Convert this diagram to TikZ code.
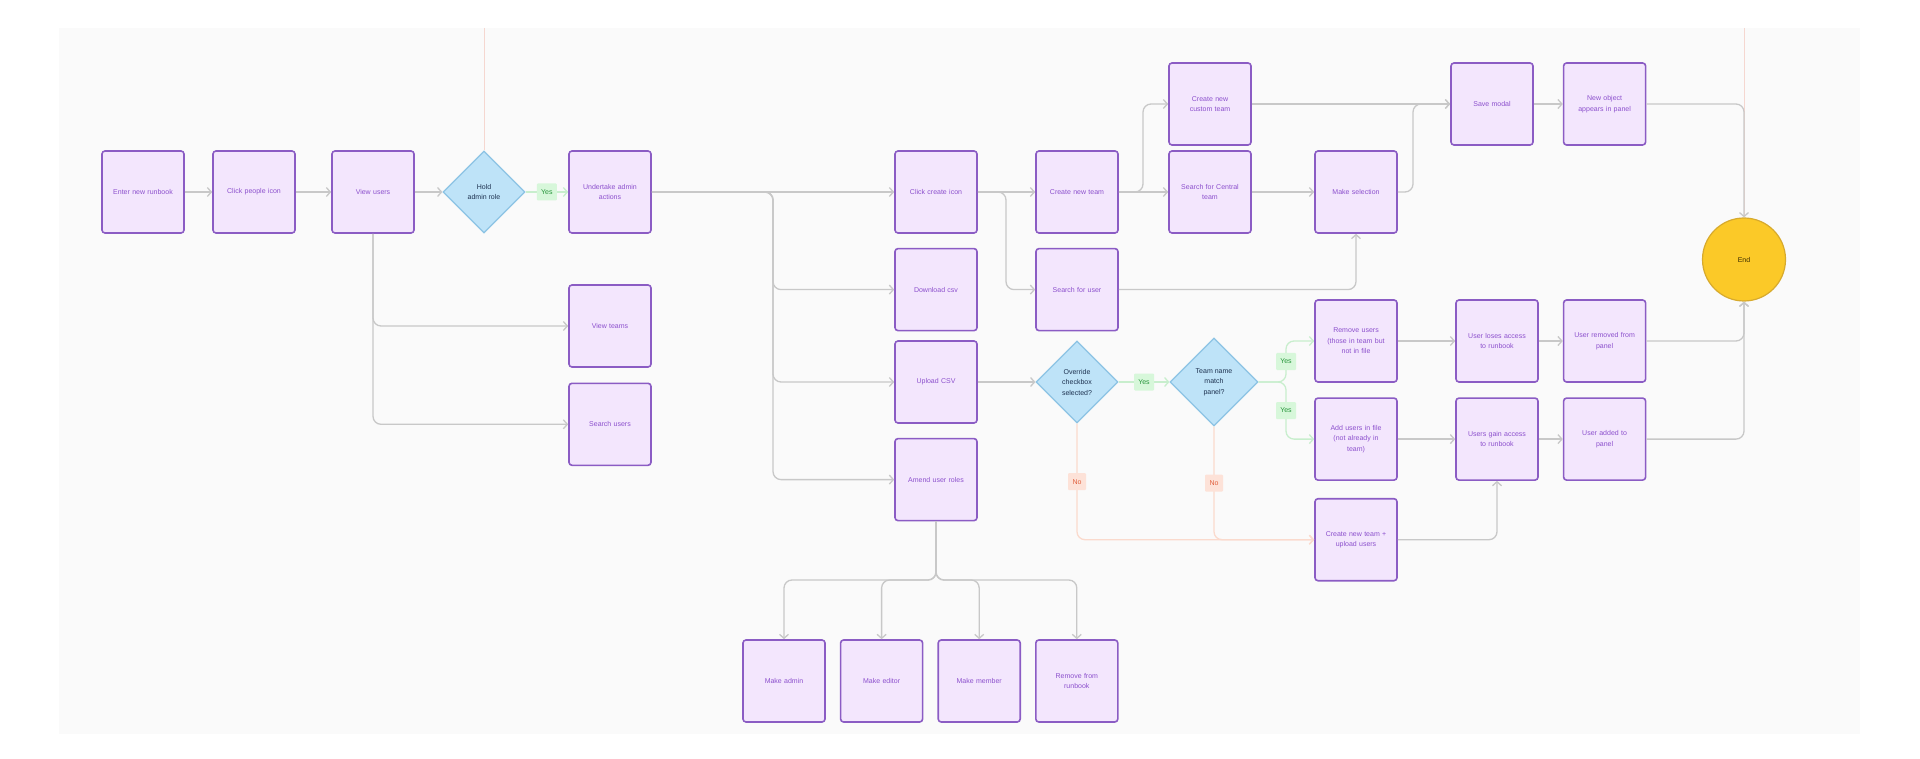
\documentclass[tikz,border=0pt]{standalone}
\usepackage{fontspec}
\setmainfont{Liberation Sans}
\usepackage{tikz}
\usetikzlibrary{shapes.geometric, arrows.meta, positioning}
\definecolor{boxfill}{RGB}{243,230,253}
\definecolor{boxline}{RGB}{139,92,196}
\definecolor{boxtext}{RGB}{140,80,205}
\definecolor{decfill}{RGB}{190,227,248}
\definecolor{decline}{RGB}{140,195,228}
\definecolor{dectext}{RGB}{30,50,80}
\definecolor{endfill}{RGB}{251,201,40}
\definecolor{endline}{RGB}{215,170,45}
\definecolor{endtext}{RGB}{60,45,0}
\definecolor{linegray}{RGB}{200,200,200}
\definecolor{yesline}{RGB}{200,238,205}
\definecolor{yesfill}{RGB}{215,247,218}
\definecolor{yestext}{RGB}{40,150,60}
\definecolor{noline}{RGB}{250,218,205}
\definecolor{nofill}{RGB}{253,226,216}
\definecolor{notext}{RGB}{225,95,60}
\definecolor{panelbg}{RGB}{250,250,250}
\definecolor{faintline}{RGB}{245,215,208}
\tikzset{
  stepbox/.style={rectangle, draw=boxline, fill=boxfill, text=boxtext,
    minimum width=82pt, minimum height=82pt, text width=76pt, align=center,
    inner sep=0pt, font=\fontsize{7}{10.5}\selectfont, rounded corners=3pt, line width=1.6pt},
  decision/.style={diamond, aspect=1, draw=decline, fill=decfill, text=dectext,
    minimum size=82pt, inner sep=0pt, align=center,
    font=\fontsize{7}{10.5}\selectfont, line width=1.2pt},
  endnode/.style={circle, draw=endline, fill=endfill, text=endtext,
    minimum size=83pt, font=\fontsize{7}{10.5}\selectfont, line width=1.2pt},
  yeslabel/.style={rectangle, fill=yesfill, text=yestext, minimum width=20pt,
    minimum height=17pt, inner sep=2pt, font=\fontsize{7}{8}\selectfont, rounded corners=1pt},
  nolabel/.style={rectangle, fill=nofill, text=notext, minimum width=18pt,
    minimum height=17pt, inner sep=2pt, font=\fontsize{7}{8}\selectfont, rounded corners=1pt},
  arrow/.style={-{Straight Barb[length=4pt,width=9pt]}, line width=1.3pt,
    color=linegray, rounded corners=8pt},
  yesarrow/.style={arrow, color=yesline},
  noarrow/.style={arrow, color=noline},
  faint/.style={line width=1pt, color=faintline}
}
\begin{document}
\begin{tikzpicture}[x=1pt, y=-1pt]
  \useasboundingbox (0,0) rectangle (1920,759);
  \fill[white] (0,0) rectangle (1920,759);
  \fill[panelbg] (59,28) rectangle (1860,734);

  % Entry row
  \node[stepbox] (enter) at (143,192) {Enter new runbook};
  \node[stepbox] (people) at (254,192) {Click people icon};
  \node[stepbox] (viewusers) at (373,192) {View users};
  \node[decision] (hold) at (484,192) {Hold\\admin role};
  \node[stepbox] (undertake) at (610,192) {Undertake admin\\actions};
  \node[stepbox] (viewteams) at (610,326) {View teams};
  \node[stepbox, below=14.7pt of viewteams] (searchusers) {Search users};

  % Admin actions
  \node[stepbox] (clickcreate) at (936,192) {Click create icon};
  \node[stepbox, below=14pt of clickcreate] (download) {Download csv};
  \node[stepbox] (upload) at (936,382) {Upload CSV};
  \node[stepbox, below=14pt of upload] (amend) {Amend user roles};
  \node[stepbox] (makeadmin) at (784,681) {Make admin};
  \node[stepbox, right=14pt of makeadmin] (makeeditor) {Make editor};
  \node[stepbox, right=14pt of makeeditor] (makemember) {Make member};
  \node[stepbox, right=14pt of makemember] (removefrom) {Remove from\\runbook};

  % Teams
  \node[stepbox] (newteam) at (1077,192) {Create new team};
  \node[stepbox, below=14pt of newteam] (searchuser) {Search for user};
  \node[stepbox] (central) at (1210,192) {Search for Central\\team};
  \node[stepbox] (custom) at (1210,104) {Create new\\custom team};
  \node[stepbox] (select) at (1356,192) {Make selection};
  \node[stepbox] (save) at (1492,104) {Save modal};
  \node[stepbox, right=29pt of save] (newobj) {New object\\appears in panel};
  \node[endnode] (end) at (1744,259.5) {End};

  % CSV upload
  \node[decision] (override) at (1077,382) {Override\\checkbox\\selected?};
  \node[decision, minimum size=88pt] (teamname) at (1214,382) {Team name\\match\\panel?};
  \node[stepbox] (remove) at (1356,341) {Remove users\\(those in team but\\not in file};
  \node[stepbox, below=14.5pt of remove] (addusers) {Add users in file\\(not already in\\team)};
  \node[stepbox, below=17pt of addusers] (createupload) {Create new team +\\upload users};
  \node[stepbox] (loses) at (1497,341) {User loses access\\to runbook};
  \node[stepbox, below=14.5pt of loses] (gain) {Users gain access\\to runbook};
  \node[stepbox, right=24pt of loses] (removed) {User removed from\\panel};
  \node[stepbox, right=24pt of gain] (added) {User added to\\panel};

  \coordinate (topa) at (484,28);
  \coordinate (topb) at (1744,28);
  \coordinate (busa) at (773,192);
  \coordinate (busb) at (1006,192);
  \coordinate (busc) at (1143,192);
  \coordinate (busd) at (1413,192);
  \coordinate (buse) at (1286,382);
  \coordinate (busf) at (936,580);

  % Lines coming in from outside the frame
  \draw[faint] (topa) -- (hold.north);
  \draw[faint] (topb) -- (end.north);

  \draw[arrow] (enter) -- (people);
  \draw[arrow] (people) -- (viewusers);
  \draw[arrow] (viewusers) -- (hold);
  \draw[yesarrow] (hold) -- (undertake) node[yeslabel, midway] {Yes};
  \draw[arrow] (viewusers) |- (viewteams);
  \draw[arrow] (viewusers) |- (searchusers);

  \draw[arrow] (undertake) -- (clickcreate);
  \draw[arrow] (undertake.east) -- (busa) |- (download);
  \draw[arrow] (undertake.east) -- (busa) |- (upload);
  \draw[arrow] (undertake.east) -- (busa) |- (amend);
  \foreach \role in {makeadmin, makeeditor, makemember, removefrom}
    \draw[arrow] (amend.south) -- (busf) -| (\role);

  \draw[arrow] (clickcreate) -- (newteam);
  \draw[arrow] (clickcreate.east) -- (busb) |- (searchuser);
  \draw[arrow] (newteam) -- (central);
  \draw[arrow] (newteam.east) -- (busc) |- (custom);
  \draw[arrow] (central) -- (select);
  \draw[arrow] (searchuser) -| (select);
  \draw[arrow] (custom) -- (save);
  \draw[arrow] (select.east) -- (busd) |- (save);
  \draw[arrow] (save) -- (newobj);
  \draw[arrow] (newobj) -| (end);

  \draw[arrow] (upload) -- (override);
  \draw[yesarrow] (override) -- (teamname) node[yeslabel, midway] {Yes};
  \draw[yesarrow] (teamname.east) -- (buse) |- (remove) node[yeslabel, pos=0.25] {Yes};
  \draw[yesarrow] (teamname.east) -- (buse) |- (addusers) node[yeslabel, pos=0.25] {Yes};
  \draw[noarrow] (override) |- (createupload) node[nolabel, pos=0.25] {No};
  \draw[noarrow] (teamname) |- (createupload) node[nolabel, pos=0.25] {No};

  \draw[arrow] (remove) -- (loses);
  \draw[arrow] (loses) -- (removed);
  \draw[arrow] (addusers) -- (gain);
  \draw[arrow] (gain) -- (added);
  \draw[arrow] (createupload) -| (gain);
  \draw[arrow] (removed) -| (end);
  \draw[arrow] (added) -| (end);
\end{tikzpicture}
\end{document}
